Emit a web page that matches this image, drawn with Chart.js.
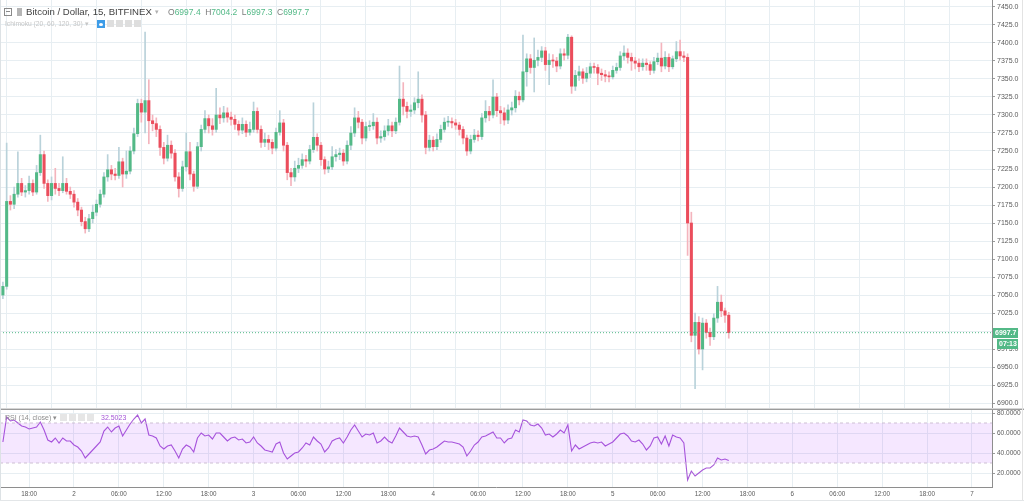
<!DOCTYPE html>
<html><head><meta charset="utf-8">
<script src="https://cdn.jsdelivr.net/npm/chart.js@4.4.1/dist/chart.umd.min.js"></script>
<style>
html,body{margin:0;padding:0;background:#fff;width:1024px;height:503px;overflow:hidden;font-family:Arial,"Liberation Sans",sans-serif;}
canvas{position:absolute;left:0;}
#mainCanvas{top:0;}
#rsiCanvas{top:409px;}
.abs{position:absolute;white-space:nowrap;}
.sq{position:absolute;width:7px;height:7px;background:#dedede;}
</style>
</head><body>
<canvas id="mainCanvas" width="1024" height="409"></canvas>
<canvas id="rsiCanvas" width="1024" height="94"></canvas>

<!-- frame lines -->
<div class="abs" style="left:0;top:408px;width:1024px;height:1px;background:#d6d6d6"></div>
<div class="abs" style="left:0;top:409px;width:1024px;height:1px;background:#9c9c9c"></div>
<div class="abs" style="left:0;top:0;width:1px;height:500px;background:#dde2e5"></div>
<div class="abs" style="left:1022px;top:0;width:1px;height:500px;background:#e3e3e3"></div>
<div class="abs" style="left:0;top:500px;width:1024px;height:1px;background:#e3e6e8"></div>

<!-- header -->
<div class="abs" style="left:4px;top:8px;width:6px;height:6px;border:1px solid #8a8a8a;"></div>
<div class="abs" style="left:6px;top:11px;width:4px;height:1px;background:#8a8a8a;"></div>
<div class="abs" style="left:17px;top:8px;width:5px;height:8px;background:#b5b5b5;"></div>
<div class="abs" id="ttl" style="left:26px;top:6px;font-size:9.6px;line-height:12px;color:#3f3f3f;"></div>
<div class="abs" style="left:155px;top:6px;font-size:7px;line-height:12px;color:#b0b0b0;">▾</div>
<div class="abs" id="ohlc" style="left:168px;top:6px;font-size:8.5px;line-height:12px;"></div>

<div class="abs" id="ind" style="left:5px;top:19px;font-size:6.7px;line-height:9px;color:#c6c6c6;"></div>
<div class="abs" style="left:97px;top:20px;width:8px;height:8px;background:#3d9ce8;"></div>
<div class="abs" style="left:99px;top:22.5px;width:4px;height:3px;border-radius:50%;background:#fff;"></div>
<div class="sq" style="left:107px;top:20px"></div>
<div class="sq" style="left:116px;top:20px"></div>
<div class="sq" style="left:125px;top:20px"></div>
<div class="sq" style="left:134px;top:20px"></div>

<div class="abs" id="rsiName" style="left:5px;top:413px;font-size:7px;line-height:10px;color:#8c8c8c;"></div>
<div class="sq" style="left:60px;top:414px;background:#e6e6e6"></div>
<div class="sq" style="left:69px;top:414px;background:#e6e6e6"></div>
<div class="sq" style="left:78px;top:414px;background:#e6e6e6"></div>
<div class="sq" style="left:87px;top:414px;background:#e6e6e6"></div>
<div class="abs" id="rsiVal" style="left:101px;top:413px;font-size:7px;line-height:10px;color:#a455d6;"></div>

<script>
// ---------------- DATA ----------------
const titleText = 'Bitcoin / Dollar, 15, BITFINEX';
const ohlcKeys = ['O', 'H', 'L', 'C'];
const ohlcValues = ['6997.4', '7004.2', '6997.3', '6997.7'];
const indicatorText = 'Ichimoku (20, 60, 120, 30) ▾';
const rsiName = 'RSI (14, close) ▾';
const rsiLastText = '32.5023';
const lastPrice = 6997.7;
const countdown = '07:13';

const FIRST_OPEN = 7050;
const START_HOUR = -9.5;   // first bar, hours from day "2" 00:00
const BAR_HOURS = 0.5;

const closes = [
 7062,7180,7176,7190,7205,7193,7195,7205,7193,7220,
 7245,7205,7188,7205,7198,7195,7205,7194,7190,7179,
 7168,7152,7142,7156,7165,7176,7190,7214,7224,7218,
 7216,7235,7218,7222,7250,7274,7316,7304,7320,7292,
 7288,7280,7255,7240,7258,7247,7214,7198,7228,7249,
 7218,7201,7256,7280,7295,7285,7280,7300,7296,7303,
 7297,7294,7287,7279,7287,7276,7280,7305,7280,7262,
 7266,7262,7254,7276,7289,7258,7220,7214,7226,7230,
 7238,7236,7252,7269,7258,7238,7225,7228,7242,7245,
 7247,7236,7258,7275,7296,7290,7268,7284,7285,7290,
 7268,7270,7278,7285,7278,7290,7322,7312,7305,7307,
 7317,7322,7300,7255,7265,7256,7266,7280,7290,7291,
 7289,7286,7280,7268,7250,7266,7272,7270,7296,7305,
 7300,7325,7306,7303,7293,7307,7310,7326,7321,7360,
 7378,7366,7376,7380,7389,7370,7376,7375,7368,7385,
 7383,7408,7340,7355,7360,7351,7358,7367,7366,7358,
 7356,7354,7353,7362,7366,7382,7386,7380,7375,7372,
 7367,7372,7370,7362,7374,7379,7368,7380,7367,7378,
 7388,7382,7380,7150,6994,7012,6975,7011,6998,6992,
 7018,7040,7028,7022,6997.7];

const highs = [
 7068,7261,7188,7200,7249,7212,7202,7215,7210,7230,
 7272,7250,7210,7214,7226,7205,7242,7212,7200,7195,
 7184,7172,7158,7162,7175,7182,7196,7220,7245,7230,
 7226,7255,7240,7250,7256,7282,7322,7322,7415,7349,
 7300,7296,7285,7262,7272,7264,7252,7220,7236,7275,
 7262,7222,7262,7286,7306,7300,7295,7337,7310,7312,
 7310,7304,7300,7292,7296,7292,7290,7318,7310,7285,
 7275,7272,7266,7282,7306,7294,7262,7226,7236,7240,
 7246,7244,7258,7317,7274,7262,7242,7236,7256,7252,
 7254,7252,7264,7284,7310,7305,7294,7290,7292,7302,
 7296,7278,7285,7294,7290,7296,7368,7345,7318,7314,
 7324,7360,7328,7305,7272,7270,7274,7286,7296,7298,
 7296,7294,7290,7284,7272,7272,7280,7278,7302,7320,
 7312,7349,7330,7312,7310,7314,7318,7334,7332,7411,
 7385,7384,7407,7390,7395,7394,7385,7384,7380,7392,
 7392,7412,7410,7362,7368,7364,7366,7372,7372,7370,
 7364,7362,7360,7368,7372,7388,7396,7392,7386,7380,
 7378,7378,7378,7374,7380,7386,7400,7388,7385,7382,
 7402,7404,7388,7385,7165,7025,7020,7018,7016,7004,
 7024,7062,7050,7032,7026];

const lows = [
 7045,7058,7168,7170,7186,7188,7186,7190,7188,7190,
 7216,7198,7180,7182,7190,7188,7192,7190,7184,7172,
 7160,7146,7136,7138,7150,7160,7172,7186,7208,7210,
 7210,7212,7200,7212,7218,7246,7270,7290,7275,7260,
 7278,7270,7244,7232,7236,7240,7208,7186,7194,7222,
 7210,7194,7198,7250,7275,7275,7272,7276,7288,7290,
 7290,7286,7280,7272,7274,7270,7272,7276,7275,7255,
 7256,7252,7246,7250,7272,7250,7210,7202,7208,7220,
 7226,7228,7232,7248,7250,7230,7218,7220,7224,7236,
 7238,7230,7232,7252,7270,7282,7260,7264,7278,7280,
 7260,7262,7265,7272,7270,7274,7286,7300,7296,7298,
 7302,7310,7290,7246,7250,7250,7252,7262,7276,7284,
 7282,7280,7272,7260,7244,7246,7262,7264,7266,7290,
 7292,7296,7298,7288,7286,7288,7300,7304,7314,7318,
 7340,7358,7332,7368,7374,7362,7342,7366,7360,7364,
 7376,7378,7330,7334,7348,7344,7346,7352,7358,7342,
 7348,7346,7346,7350,7358,7362,7376,7372,7362,7364,
 7360,7362,7362,7356,7358,7370,7360,7364,7360,7364,
 7374,7376,7374,7105,6985,6920,6968,6946,6990,6980,
 6988,7012,7020,7012,6990];

const rsiValues = [
 51,76,72,73,70,67,66,64,65,66,
 71,63,53,51,55,50,55,52,52,48,
 46,42,35,39,43,47,51,62,66,61,
 65,67,57,63,69,74,78,70,74,58,
 57,55,47,44,47,48,42,35,44,48,
 46,41,55,60,57,58,54,60,60,56,
 52,55,56,53,54,50,51,56,50,47,
 43,42,41,49,51,40,34,37,40,41,
 45,50,48,56,52,49,41,45,52,54,
 55,50,56,63,68,62,56,59,58,60,
 50,52,56,52,50,57,65,61,57,56,
 57,56,48,39,43,44,46,49,52,51,
 51,50,49,46,37,42,48,51,56,57,
 59,61,55,55,50,54,55,63,61,73,
 72,68,67,69,65,58,59,56,59,63,
 60,68,42,48,44,46,48,50,51,50,
 51,47,49,51,55,59,60,57,52,51,
 53,49,43,47,55,56,49,57,47,58,
 56,55,50,13,22,17,20,23,25,25,
 28,35,33,34,32.5];

const timeTickHours = [-6,0,6,12,18,24,30,36,42,48,54,60,66,72,78,84,90,96,102,108,114,120];
const timeTickLabels = ['18:00','2','06:00','12:00','18:00','3','06:00','12:00','18:00','4','06:00','12:00','18:00','5','06:00','12:00','18:00','6','06:00','12:00','18:00','7'];
const priceTicks = [6900,6925,6950,6975,7000,7025,7050,7075,7100,7125,7150,7175,7200,7225,7250,7275,7300,7325,7350,7375,7400,7425,7450];
const rsiTicks = [20,40,60,80];
const rsiBand = [30, 70];

// ---------------- LAYOUT / STYLE ----------------
const X_MIN = -9.889, X_MAX = 122.68;
const PRICE_MIN = 6891.7, PRICE_MAX = 7459.7;
const RSI_MIN = 6, RSI_MAX = 84;
const UP = '#53b987', DOWN = '#eb4d5c', UP_WICK = '#b9d2da', DOWN_WICK = '#f4b4bd';
const GRID = '#e7eef2';
const AXIS = '#8e8e8e';
const LABEL = '#5a5a5a';

// text
document.getElementById('ttl').textContent = titleText;
document.getElementById('ohlc').innerHTML = ohlcKeys.map((k,i)=>
  '<span style="color:#7a7a7a">'+k+'</span><span style="color:'+UP+';margin-right:4.5px">'+ohlcValues[i]+'</span>').join('');
document.getElementById('ind').textContent = indicatorText;
document.getElementById('rsiName').textContent = rsiName;
document.getElementById('rsiVal').textContent = rsiLastText;

const hours = closes.map((_, i) => START_HOUR + BAR_HOURS * i);
const opens = closes.map((c, i) => i === 0 ? FIRST_OPEN : closes[i - 1]);
const isUp = closes.map((c, i) => c >= opens[i]);

const setTicks = vals => s => { s.ticks = vals.map(v => ({ value: v })); };
const fixY = s => { s.width = 32; s.paddingTop = 0; s.paddingBottom = 0; };

const priceTagPlugin = {
  id: 'priceTag',
  afterDraw(chart) {
    const { ctx, scales: { y } } = chart;
    const py = Math.round(y.getPixelForValue(lastPrice));
    const x0 = y.left + 1;
    ctx.save();
    ctx.fillStyle = UP;
    ctx.fillRect(x0, py - 5, 25, 10);
    ctx.fillRect(x0 + 4, py + 6, 21, 10);
    ctx.fillStyle = '#ffffff';
    ctx.font = 'bold 7px Arial';
    ctx.textBaseline = 'middle';
    ctx.textAlign = 'left';
    ctx.fillText(lastPrice.toFixed(1), x0 + 2, py + 0.5);
    ctx.fillText(countdown, x0 + 6, py + 11.5);
    ctx.restore();
  }
};

new Chart(document.getElementById('mainCanvas'), {
  type: 'bar',
  data: {
    datasets: [
      { type: 'line', data: [{ x: X_MIN, y: lastPrice }, { x: X_MAX, y: lastPrice }],
        borderColor: UP, borderWidth: 1, borderDash: [1, 2], pointRadius: 0, order: 0 },
      { type: 'bar', data: closes.map((c, i) => ({ x: hours[i], y: [opens[i], c] })),
        backgroundColor: isUp.map(u => u ? UP : DOWN), barThickness: 2.4, grouped: false,
        minBarLength: 1, borderWidth: 0, order: 1 },
      { type: 'bar', data: closes.map((c, i) => ({ x: hours[i], y: [lows[i], highs[i]] })),
        backgroundColor: isUp.map(u => u ? UP_WICK : DOWN_WICK), barThickness: 1, grouped: false,
        borderWidth: 0, order: 2 }
    ]
  },
  options: {
    responsive: false, animation: false, events: [],
    layout: { padding: 0 },
    plugins: { legend: { display: false }, tooltip: { enabled: false } },
    scales: {
      x: { type: 'linear', min: X_MIN, max: X_MAX, offset: false,
           afterBuildTicks: setTicks(timeTickHours),
           ticks: { display: false },
           grid: { color: GRID, drawTicks: false },
           border: { display: false },
           afterFit: s => { s.height = 0; s.paddingLeft = 0; s.paddingRight = 0; } },
      y: { type: 'linear', position: 'right', min: PRICE_MIN, max: PRICE_MAX,
           afterBuildTicks: setTicks(priceTicks),
           ticks: { autoSkip: false, callback: v => Number(v).toFixed(1),
                    font: { size: 7, family: 'Arial' }, color: LABEL, padding: 2 },
           grid: { color: GRID, tickLength: 3, tickColor: '#9a9a9a' },
           border: { color: AXIS },
           afterFit: fixY }
    }
  },
  plugins: [priceTagPlugin]
});

new Chart(document.getElementById('rsiCanvas'), {
  type: 'line',
  data: {
    datasets: [
      { data: [{ x: X_MIN, y: rsiBand[1] }, { x: X_MAX, y: rsiBand[1] }],
        borderColor: '#cdbfd3', borderWidth: 1, borderDash: [3, 3], pointRadius: 0, fill: false },
      { data: [{ x: X_MIN, y: rsiBand[0] }, { x: X_MAX, y: rsiBand[0] }],
        borderColor: '#cdbfd3', borderWidth: 1, borderDash: [3, 3], pointRadius: 0,
        fill: '-1', backgroundColor: 'rgba(153,21,255,0.1)' },
      { data: rsiValues.map((v, i) => ({ x: hours[i], y: v })),
        borderColor: '#a85ad8', borderWidth: 1.1, pointRadius: 0, fill: false, tension: 0 }
    ]
  },
  options: {
    responsive: false, animation: false, events: [],
    layout: { padding: 0 },
    plugins: { legend: { display: false }, tooltip: { enabled: false } },
    scales: {
      x: { type: 'linear', min: X_MIN, max: X_MAX, offset: false,
           afterBuildTicks: setTicks(timeTickHours),
           ticks: { autoSkip: false, maxRotation: 0,
                    callback: v => timeTickLabels[timeTickHours.indexOf(v)],
                    font: { size: 6.3, family: 'Arial' }, color: LABEL, padding: 3 },
           grid: { color: GRID, drawTicks: false },
           border: { color: AXIS },
           afterFit: s => { s.height = 16; s.paddingLeft = 0; s.paddingRight = 0; } },
      y: { type: 'linear', position: 'right', min: RSI_MIN, max: RSI_MAX,
           afterBuildTicks: setTicks(rsiTicks),
           ticks: { autoSkip: false, callback: v => Number(v).toFixed(4),
                    font: { size: 6.5, family: 'Arial' }, color: LABEL, padding: 2 },
           grid: { color: GRID, tickLength: 3, tickColor: '#9a9a9a' },
           border: { color: AXIS },
           afterFit: fixY }
    }
  }
});
</script>
</body></html>
